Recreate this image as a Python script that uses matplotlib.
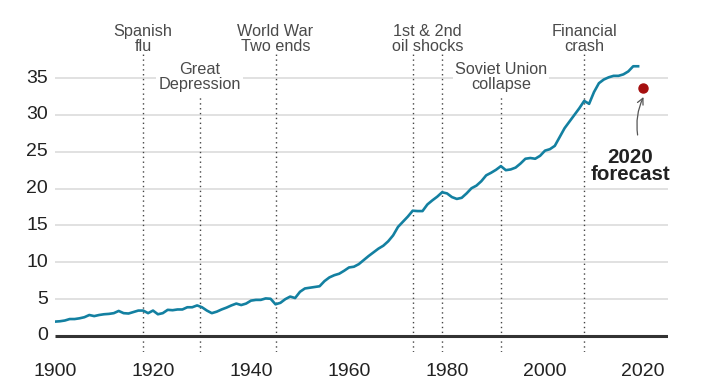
import matplotlib
matplotlib.use("Agg")
import matplotlib.pyplot as plt
import numpy as np

plt.rcParams['font.family'] = ['Liberation Sans', 'DejaVu Sans']

years = list(range(1900, 2020))
emissions = [
    1.95, 2.0, 2.1, 2.3, 2.3, 2.4, 2.55, 2.85, 2.7, 2.85,
    2.95, 3.0, 3.1, 3.4, 3.1, 3.05, 3.25, 3.45, 3.45, 3.1,
    3.45, 2.95, 3.1, 3.55, 3.5, 3.6, 3.6, 3.9, 3.9, 4.15,
    3.9, 3.45, 3.1, 3.3, 3.6, 3.85, 4.15, 4.4, 4.2, 4.4,
    4.8, 4.9, 4.9, 5.1, 5.05, 4.3, 4.5, 5.0, 5.35, 5.15,
    6.0, 6.45, 6.55, 6.65, 6.75, 7.45, 7.95, 8.25, 8.45, 8.85,
    9.3, 9.4, 9.75, 10.3, 10.85, 11.35, 11.85, 12.25, 12.85, 13.65,
    14.8, 15.5, 16.2, 17.0, 16.95, 16.95, 17.85, 18.4, 18.9, 19.5,
    19.35, 18.85, 18.6, 18.75, 19.35, 20.05, 20.4, 21.0, 21.8, 22.15,
    22.55, 23.05, 22.5, 22.6, 22.85, 23.4, 24.05, 24.15, 24.05, 24.45,
    25.15, 25.35, 25.8, 27.0, 28.2, 29.1, 30.0, 30.9, 31.9, 31.5,
    33.1, 34.3, 34.8, 35.1, 35.3, 35.3, 35.5, 35.9, 36.6, 36.6,
]
forecast_year = 2020
forecast_value = 33.6

y_ticks = [0, 5, 10, 15, 20, 25, 30, 35]
x_ticks = [1900, 1920, 1940, 1960, 1980, 2000, 2020]

events_top = [(1918, "Spanish\nflu"), (1945, "World War\nTwo ends"),
              (2008, "Financial\ncrash")]
events_mid = [(1929.5, "Great\nDepression"), (1991, "Soviet Union\ncollapse")]
oil_years = [1973, 1979]
oil_label = "1st & 2nd\noil shocks"

W, H = 711, 390
fig = plt.figure(figsize=(W / 100, H / 100), dpi=100)

px_per_year = 4.9
px_per_unit = 7.37
x0_px = 55
zero_px = 336
top_px = 20
bot_px = 352
right_px = x0_px + 125 * px_per_year

ax = fig.add_axes([x0_px / W, (H - bot_px) / H, (right_px - x0_px) / W,
                   (bot_px - top_px) / H])
ax.set_xlim(1900, 2025)
ax.set_ylim(-(bot_px - zero_px) / px_per_unit, (zero_px - top_px) / px_per_unit)
ax.axis('off')

def v(py):
    return (zero_px - py) / px_per_unit

# gridlines
for t in y_ticks:
    if t == 0:
        ax.plot([1900, 2025], [0, 0], color='#333333', lw=2.2, zorder=3,
                solid_capstyle='butt')
    else:
        ax.plot([1900, 2025], [t, t], color='#d9d9d9', lw=1.1, zorder=1)
    ax.text(1900 - 7 / px_per_year, t, str(t), ha='right', va='center',
            fontsize=14, color='#222222')

for xt in x_ticks:
    ax.text(xt, v(371), str(xt), ha='center', va='center', fontsize=14,
            color='#222222')

bottom = ax.get_ylim()[0]
dot_kw = dict(color='#444444', lw=1.0, ls=(0, (1, 2.5)), zorder=2)
for yr, lab in events_top:
    ax.plot([yr, yr], [bottom, v(54)], **dot_kw)
    ax.text(yr, v(39), lab, ha='center', va='center', fontsize=11.7,
            color='#4a4a4a', linespacing=0.95)
for yr in oil_years:
    ax.plot([yr, yr], [bottom, v(54)], **dot_kw)
ax.text(np.mean(oil_years), v(39), oil_label, ha='center', va='center',
        fontsize=11.7, color='#4a4a4a', linespacing=0.95)
for yr, lab in events_mid:
    ax.plot([yr, yr], [bottom, v(97)], **dot_kw)
    ax.text(yr, v(77), lab, ha='center', va='center', fontsize=11.7,
            color='#4a4a4a', linespacing=0.95, zorder=4,
            bbox=dict(facecolor='white', edgecolor='none', pad=1.5))

ax.plot(years, emissions, color='#1380A1', lw=1.9, zorder=5,
        solid_joinstyle='round')
ax.plot([forecast_year], [forecast_value], 'o', color='#a50f0f',
        markersize=6.5, zorder=6)

ax.text(2017.4, v(166), "2020\nforecast", ha='center', va='center',
        fontsize=14.8, fontweight='bold', color='#222222', linespacing=0.92,
        zorder=4, bbox=dict(facecolor='white', edgecolor='none', pad=1.5))
ax.annotate("", xy=(2020.1, v(97)), xytext=(2018.9, v(135)),
            arrowprops=dict(arrowstyle='->', color='#555555', lw=0.9,
                            connectionstyle='arc3,rad=-0.15',
                            shrinkA=0, shrinkB=0, mutation_scale=11),
            zorder=6)

fig.savefig('out.png', dpi=100)
